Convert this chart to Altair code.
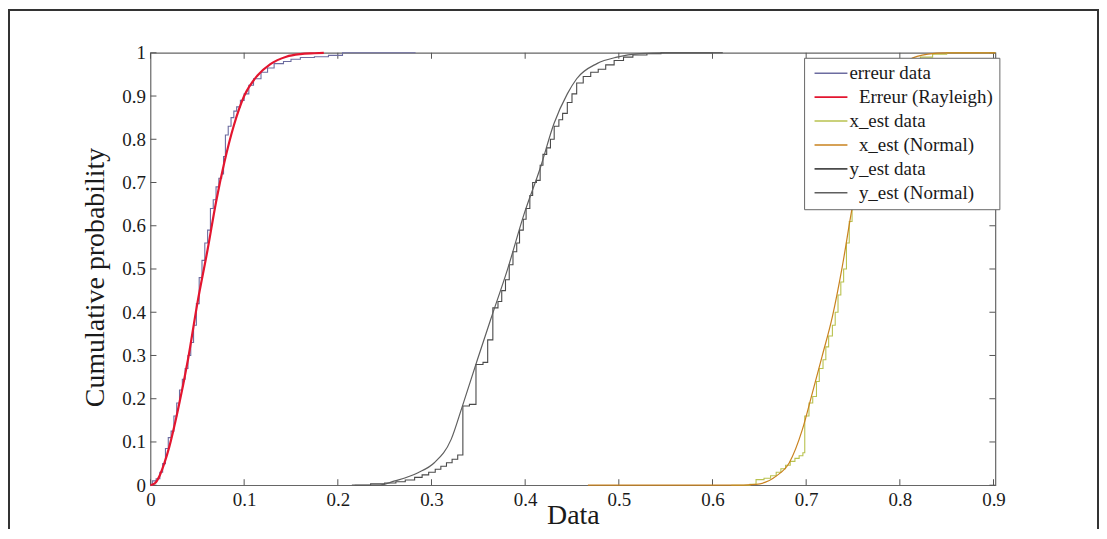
import altair as alt
import pandas as pd

FONT = "Liberation Serif"

PAD = "\u200b\u00a0\u00a0"
SERIES = ["erreur data", PAD + "Erreur (Rayleigh)", "x_est data",
          PAD + "x_est (Normal)", "y_est data", PAD + "y_est (Normal)"]
COLORS = ["#6c6ca0", "#e3152f", "#b9c24f", "#c9821e", "#4a4a4a", "#5f5f5f"]

X_TICKS = [0, 0.1, 0.2, 0.3, 0.4, 0.5, 0.6, 0.7, 0.8, 0.9]
Y_TICKS = [0, 0.1, 0.2, 0.3, 0.4, 0.5, 0.6, 0.7, 0.8, 0.9, 1]

# erreur data (empirical CDF, step)
ERR_DATA_X = [0.000, 0.002, 0.006, 0.010, 0.013, 0.016, 0.019, 0.022, 0.025, 0.028, 0.031,
              0.034, 0.037, 0.040, 0.043, 0.046, 0.049, 0.052, 0.055, 0.058, 0.061, 0.064,
              0.067, 0.070, 0.073, 0.076, 0.078, 0.080, 0.083, 0.086, 0.089, 0.092, 0.096,
              0.100, 0.105, 0.110, 0.118, 0.125, 0.132, 0.142, 0.150, 0.160, 0.175, 0.190,
              0.205, 0.283]
ERR_DATA_Y = [0.000, 0.010, 0.015, 0.030, 0.050, 0.085, 0.110, 0.125, 0.160, 0.190, 0.220,
              0.245, 0.270, 0.300, 0.330, 0.370, 0.420, 0.480, 0.520, 0.560, 0.590, 0.640,
              0.660, 0.690, 0.710, 0.720, 0.760, 0.810, 0.830, 0.850, 0.865, 0.875, 0.890,
              0.905, 0.925, 0.940, 0.955, 0.965, 0.975, 0.980, 0.985, 0.989, 0.991, 0.994,
              1.000, 1.000]

# Erreur (Rayleigh) fit
ERR_FIT_X = [0.000, 0.005, 0.010, 0.015, 0.020, 0.029, 0.040, 0.050, 0.061, 0.070, 0.079,
             0.089, 0.100, 0.114, 0.128, 0.145, 0.160, 0.175, 0.185]
ERR_FIT_Y = [0.000, 0.005, 0.023, 0.052, 0.088, 0.171, 0.290, 0.420, 0.545, 0.655, 0.748,
             0.832, 0.900, 0.947, 0.974, 0.991, 0.997, 0.999, 1.000]

# x_est data (empirical CDF, step)
XE_DATA_X = [0.620, 0.640, 0.6465, 0.655, 0.662, 0.668, 0.673, 0.678, 0.683, 0.688, 0.6925,
             0.6965, 0.6985, 0.703, 0.707, 0.711, 0.714, 0.718, 0.721, 0.724, 0.728, 0.731,
             0.734, 0.737, 0.740, 0.743, 0.746, 0.749, 0.753, 0.757, 0.762, 0.768, 0.775,
             0.783, 0.792, 0.802, 0.812, 0.822, 0.835, 0.850, 0.902]
XE_DATA_Y = [0.000, 0.002, 0.013, 0.016, 0.022, 0.030, 0.038, 0.046, 0.055, 0.062, 0.068,
             0.075, 0.160, 0.190, 0.205, 0.240, 0.270, 0.290, 0.320, 0.345, 0.370, 0.400,
             0.440, 0.470, 0.500, 0.560, 0.610, 0.650, 0.690, 0.730, 0.780, 0.830, 0.870,
             0.905, 0.940, 0.965, 0.980, 0.990, 0.997, 1.000, 1.000]

# x_est (Normal) fit
XE_FIT_X = [0.467, 0.620, 0.6465, 0.668, 0.682, 0.696, 0.7067, 0.717, 0.728, 0.7385, 0.749,
            0.760, 0.771, 0.781, 0.795, 0.810, 0.830, 0.850, 0.902]
XE_FIT_Y = [0.000, 0.000, 0.002, 0.021, 0.052, 0.129, 0.214, 0.298, 0.390, 0.505, 0.640,
            0.760, 0.845, 0.900, 0.950, 0.984, 0.997, 1.000, 1.000]

# y_est data (empirical CDF, step)
YE_DATA_X = [0.218, 0.235, 0.250, 0.262, 0.272, 0.282, 0.290, 0.297, 0.304, 0.310, 0.316,
             0.322, 0.328, 0.3335, 0.3405, 0.3475, 0.355, 0.360, 0.3655, 0.371, 0.375, 0.379,
             0.383, 0.387, 0.391, 0.394, 0.398, 0.401, 0.405, 0.408, 0.412, 0.416, 0.419,
             0.423, 0.427, 0.431, 0.436, 0.440, 0.445, 0.450, 0.455, 0.462, 0.470, 0.478,
             0.486, 0.495, 0.505, 0.515, 0.530, 0.545, 0.611]
YE_DATA_Y = [0.000, 0.003, 0.005, 0.008, 0.012, 0.018, 0.024, 0.030, 0.037, 0.044, 0.052,
             0.060, 0.070, 0.183, 0.187, 0.279, 0.284, 0.336, 0.410, 0.425, 0.450, 0.475,
             0.510, 0.540, 0.560, 0.590, 0.615, 0.640, 0.670, 0.700, 0.705, 0.740, 0.765,
             0.780, 0.800, 0.830, 0.845, 0.860, 0.885, 0.905, 0.930, 0.945, 0.955, 0.962,
             0.972, 0.982, 0.990, 0.995, 0.998, 1.000, 1.000]

# y_est (Normal) fit
YE_FIT_X = [0.215, 0.243, 0.261, 0.2856, 0.303, 0.321, 0.333, 0.349, 0.363, 0.381, 0.399,
            0.4165, 0.4307, 0.445, 0.455, 0.4766, 0.498, 0.522, 0.550, 0.600]
YE_FIT_Y = [0.000, 0.000, 0.010, 0.029, 0.052, 0.106, 0.183, 0.290, 0.382, 0.498, 0.628,
            0.736, 0.836, 0.905, 0.940, 0.975, 0.990, 0.998, 1.000, 1.000]


def rows(name, xs, ys):
    return [{"series": name, "x": a, "y": b} for a, b in zip(xs, ys)]


df_data = pd.DataFrame(rows(SERIES[0], ERR_DATA_X, ERR_DATA_Y)
                       + rows(SERIES[2], XE_DATA_X, XE_DATA_Y)
                       + rows(SERIES[4], YE_DATA_X, YE_DATA_Y))
df_fit = pd.DataFrame(rows(SERIES[1], ERR_FIT_X, ERR_FIT_Y)
                      + rows(SERIES[3], XE_FIT_X, XE_FIT_Y)
                      + rows(SERIES[5], YE_FIT_X, YE_FIT_Y))

W, H = 848, 434
TXT = "#1a1a1a"

x_axis = alt.Axis(values=X_TICKS, format="~g", ticks=False, domain=False, grid=False,
                  labelFont=FONT, labelFontSize=19, labelColor=TXT, labelPadding=5,
                  labelFlush=False, labelOverlap=False,
                  title="Data", titleFont=FONT, titleFontSize=28, titleFontWeight="normal",
                  titleColor=TXT, titleX=W / 2, titleY=38, titleBaseline="alphabetic",
                  titleAlign="center")
y_axis = alt.Axis(values=Y_TICKS, format="~g", ticks=False, domain=False, grid=False,
                  labelFont=FONT, labelFontSize=19, labelColor=TXT, labelPadding=5,
                  labelFlush=False, labelOverlap=False,
                  title="Cumulative probability", titleFont=FONT, titleFontSize=28,
                  titleFontWeight="normal", titleColor=TXT, titleX=-47, titleY=H / 2 + 8,
                  titleAngle=270, titleBaseline="alphabetic", titleAlign="center")

xs = alt.Scale(domain=[0, 0.902], nice=False, zero=False)
ys = alt.Scale(domain=[0, 1], nice=False, zero=False)


def X(field):
    return alt.X(f"{field}:Q", scale=xs, axis=x_axis)


def Y(field):
    return alt.Y(f"{field}:Q", scale=ys, axis=y_axis)


color = alt.Color("series:N", scale=alt.Scale(domain=SERIES, range=COLORS),
                  legend=alt.Legend(orient="none", legendX=656, legendY=5, title=None,
                                    symbolType="M-3.3,0H3.3", symbolSize=100,
                                    symbolOffset=11.5, symbolStrokeWidth=1.6,
                                    labelFont=FONT, labelFontSize=19,
                                    labelColor=TXT, padding=6, rowPadding=4, labelOffset=9,
                                    labelLimit=400, strokeColor="#666", fillColor="white"))

frame = alt.Chart(pd.DataFrame({"k": [0]})).mark_rect(
    fillOpacity=0, stroke="#333", strokeWidth=2
).encode(x=alt.value(-142), x2=alt.value(951), y=alt.value(-43), y2=alt.value(600))

data_layer = alt.Chart(df_data).mark_line(interpolate="step-after", strokeWidth=1.1).encode(
    x=X("x"), y=Y("y"), color=color)

fit_layer = alt.Chart(df_fit).mark_line(interpolate="monotone").encode(
    x=X("x"), y=Y("y"), color=color,
    strokeWidth=alt.condition(alt.datum.series == SERIES[1], alt.value(2.2), alt.value(1.2)))

tx = pd.DataFrame({"x": X_TICKS})
ty = pd.DataFrame({"y": Y_TICKS})
TICK = "#555"
ticks_bottom = alt.Chart(tx).mark_rule(color=TICK).encode(x=X("x"), y=alt.value(H), y2=alt.value(H - 6))
ticks_top = alt.Chart(tx).mark_rule(color=TICK).encode(x=X("x"), y=alt.value(0), y2=alt.value(6))
ticks_left = alt.Chart(ty).mark_rule(color=TICK).encode(y=Y("y"), x=alt.value(0), x2=alt.value(6))
ticks_right = alt.Chart(ty).mark_rule(color=TICK).encode(y=Y("y"), x=alt.value(W), x2=alt.value(W - 6))

chart = alt.layer(frame, ticks_bottom, ticks_top, ticks_left, ticks_right,
                  data_layer, fit_layer).properties(
    width=W, height=H,
    padding={"left": 143, "top": 44, "right": 104, "bottom": 43},
    autosize=alt.AutoSizeParams(type="none"),
    background="white",
).configure(font=FONT).configure_view(stroke="#666", strokeWidth=1.2)

chart.save("out.html", embed_options={"renderer": "svg", "actions": False})
